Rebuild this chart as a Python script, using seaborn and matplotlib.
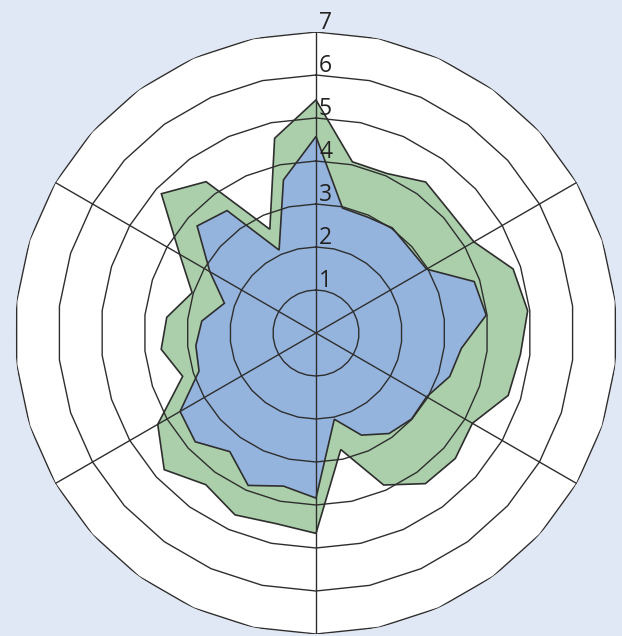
import numpy as np
import matplotlib
matplotlib.use("Agg")
import matplotlib.pyplot as plt
import matplotlib.transforms as mtransforms
import seaborn as sns

# values read clockwise from the top spoke, 30 directions
green_vals = [5.42, 4.07, 4.06, 4.34, 4.20, 4.24, 4.82, 4.95, 4.78, 4.70,
              4.20, 4.36, 4.33, 3.87, 2.77, 4.66, 4.53, 4.63, 4.36, 4.75,
              4.25, 3.26, 3.62, 3.49, 3.03, 3.66, 4.84, 4.35, 2.64, 4.63]
blue_vals = [4.57, 2.97, 2.95, 3.02, 2.93, 2.97, 3.87, 3.98, 3.40, 3.27,
             2.97, 2.99, 2.89, 2.60, 2.05, 3.84, 3.64, 3.88, 3.41, 3.78,
             3.65, 2.86, 2.81, 2.67, 2.24, 2.85, 3.72, 3.52, 2.11, 3.64]
ring_levels = [1, 2, 3, 4, 5, 6, 7]
ring_labels = ["1", "2", "3", "4", "5", "6", "7"]

bg = "#E0E7F5"
green = "#ABCFAB"
blue = "#94B4DE"
line_col = "#2E2E2E"

sns.set_theme(style="white")
plt.rcParams["font.family"] = ["Open Sans", "DejaVu Sans"]

n = len(green_vals)
theta = np.linspace(0, 2 * np.pi, n, endpoint=False)
theta_c = np.append(theta, theta[0])

fig = plt.figure(figsize=(6.22, 6.36), dpi=100, facecolor=bg)
ax = fig.add_axes([15 / 622, 2 / 636, 602 / 622, 602 / 636], projection="polar")
ax.set_theta_zero_location("N")
ax.set_theta_direction(-1)
ax.set_facecolor("none")
ax.spines["polar"].set_visible(False)
ax.grid(False)
ax.set_xticks([])
ax.set_yticks([])
ax.set_ylim(0, 7)

# white background inside the outer ring
ax.fill(theta_c, [ring_levels[-1]] * (n + 1), color="white", zorder=0)

# series
ax.fill(theta_c, green_vals + green_vals[:1], facecolor=green,
        edgecolor=line_col, linewidth=1.2, zorder=1)
ax.fill(theta_c, blue_vals + blue_vals[:1], facecolor=blue,
        edgecolor=line_col, linewidth=1.2, zorder=2)

# polygon rings and spokes
for lv in ring_levels:
    ax.plot(theta_c, [lv] * (n + 1), color=line_col, linewidth=1.0, zorder=3)
for a in theta[::5]:
    ax.plot([a, a], [0, ring_levels[-1]], color=line_col, linewidth=1.0, zorder=3)

# ring labels next to the top spoke
offs = mtransforms.offset_copy(ax.transData, fig=fig, x=3, y=3, units="dots")
for lv, lab in zip(ring_levels, ring_labels):
    ax.text(0, lv, lab, transform=offs, ha="left", va="baseline",
            fontsize=16.5, color="#222222", clip_on=False, zorder=4)

fig.savefig("out.png", dpi=100, facecolor=bg)
